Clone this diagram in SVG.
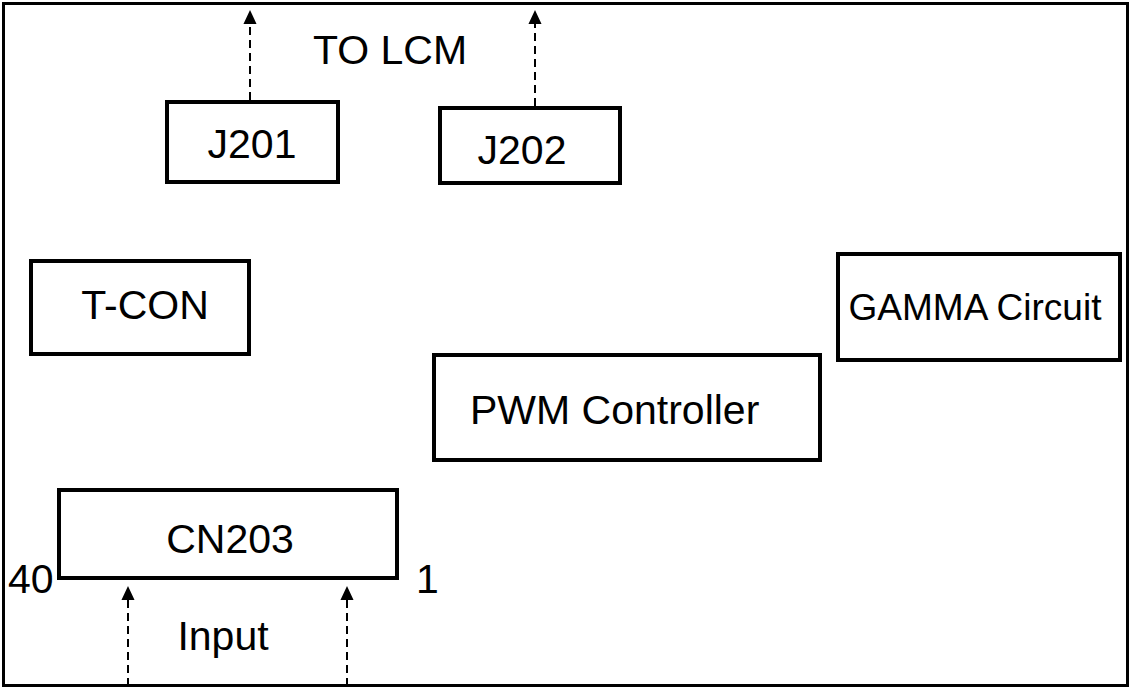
<svg xmlns="http://www.w3.org/2000/svg" width="1131" height="689" viewBox="0 0 1131 689">
<style>
.box{fill:#fff;stroke:#000;stroke-width:4}
.lbl{font-family:"Liberation Sans",Arial,sans-serif;font-size:41px;fill:#000}
.c{text-anchor:middle}
.dash{stroke:#000;stroke-width:2;stroke-dasharray:8,5;fill:none;marker-end:url(#ah)}
</style>
<defs>
<marker id="ah" markerWidth="14" markerHeight="15" refX="0" refY="7" orient="auto" markerUnits="userSpaceOnUse" viewBox="0 0 15 14" overflow="visible">
<path d="M0,0 L15,7 L0,14 Z" fill="#000"/>
</marker>
</defs>
<rect x="0" y="0" width="1131" height="689" fill="#fff"/>
<rect id="frame" x="3.5" y="3.5" width="1124" height="682" fill="none" stroke="#000" stroke-width="3"/>
<g id="connectors">
<line class="dash" x1="250" y1="100" x2="250" y2="24"/>
<line class="dash" x1="535" y1="106" x2="535" y2="24"/>
<line class="dash" x1="128" y1="686" x2="128" y2="600"/>
<line class="dash" x1="347" y1="686" x2="347" y2="600"/>
</g>
<text id="tolcm" class="lbl c" x="390" y="64">TO LCM</text>
<g id="J201"><rect class="box" x="167" y="102" width="171" height="80"/><text class="lbl c" x="252" y="158">J201</text></g>
<g id="J202"><rect class="box" x="440" y="108" width="180" height="75"/><text class="lbl c" x="522" y="164">J202</text></g>
<g id="TCON"><rect class="box" x="31" y="261" width="218" height="93"/><text class="lbl c" x="145" y="319">T-CON</text></g>
<g id="GAMMA"><rect class="box" x="838" y="254" width="282" height="106"/><text class="lbl c" x="975" y="320" style="font-size:37px">GAMMA Circuit</text></g>
<g id="PWM"><rect class="box" x="434" y="355" width="386" height="105"/><text class="lbl" x="470" y="424">PWM Controller</text></g>
<g id="CN203"><rect class="box" x="59" y="490" width="338" height="88"/><text class="lbl c" x="230" y="553">CN203</text></g>
<text class="lbl" x="8" y="593">40</text>
<text class="lbl" x="416" y="593">1</text>
<text class="lbl c" x="223" y="650">Input</text>
</svg>
